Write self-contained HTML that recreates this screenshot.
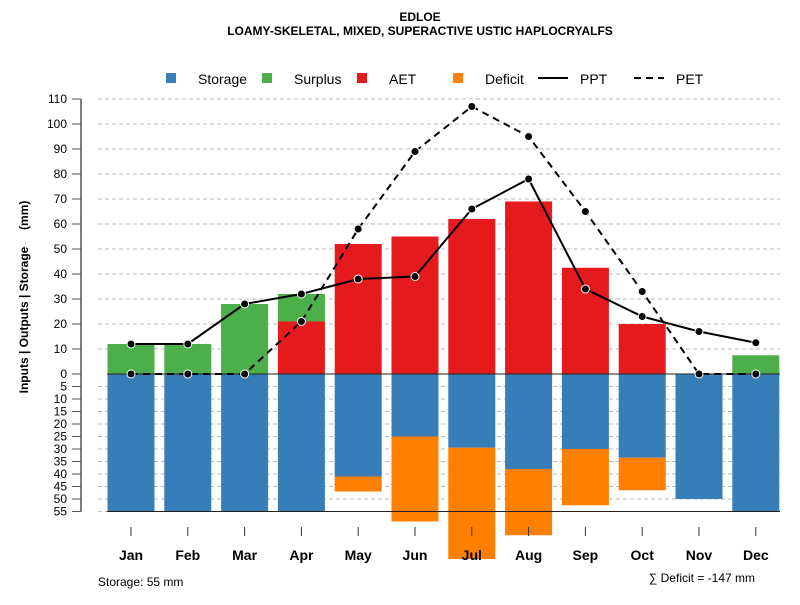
<!DOCTYPE html>
<html><head><meta charset="utf-8"><style>
body{margin:0;background:#fff;font-family:"Liberation Sans",sans-serif}
svg text{font-family:"Liberation Sans",sans-serif}
</style></head><body>
<svg id="c" width="800" height="600" viewBox="0 0 800 600">
<text x="420" y="21" font-size="12" font-weight="bold" text-anchor="middle">EDLOE</text>
<text x="420" y="35" font-size="12" font-weight="bold" text-anchor="middle">LOAMY-SKELETAL, MIXED, SUPERACTIVE USTIC HAPLOCRYALFS</text>
<g id="grid"></g>
<g id="bars"></g>
<g id="lines"></g>
<g id="axis"></g>
<g id="xaxis"></g>
<text transform="translate(28,297) rotate(-90)" font-size="12" font-weight="bold" text-anchor="middle">Inputs | Outputs | Storage&#160;&#160;&#160;&#160;&#160;(mm)</text>
<g font-size="14">
<g><rect x="166" y="73" width="10" height="10" fill="#377eb8"/><text x="198" y="84">Storage</text></g>
<g><rect x="262" y="73" width="10" height="10" fill="#4daf4a"/><text x="294" y="84">Surplus</text></g>
<g><rect x="357" y="73" width="10" height="10" fill="#e41a1c"/><text x="389" y="84">AET</text></g>
<g><rect x="453" y="73" width="10" height="10" fill="#ff7f00"/><text x="485" y="84">Deficit</text></g>
<g><line x1="538" y1="78" x2="568" y2="78" stroke="#000" stroke-width="2"/><text x="580" y="84">PPT</text></g>
<g><line x1="634" y1="78" x2="664" y2="78" stroke="#000" stroke-width="2" stroke-dasharray="7,5"/><text x="676" y="84">PET</text></g>
</g>
<text x="98" y="586" font-size="12">Storage: 55 mm</text>
<text x="755" y="582" font-size="12" text-anchor="end">∑ Deficit = -147 mm</text>
</svg>
<script>
const months=["Jan","Feb","Mar","Apr","May","Jun","Jul","Aug","Sep","Oct","Nov","Dec"];
const aet=[0,0,0,21,52,55,62,69,42.5,20,0,0];
const surplus=[12,12,28,11,0,0,0,0,0,0,0,7.5];
const storage=[55,55,55,55,41,25,29.5,38,30,33.5,50,55];
const deficit=[0,0,0,0,6,34,44.5,26.5,22.5,13,0,0];
const ppt=[12,12,28,32,38,39,66,78,34,23,17,12.5];
const pet=[0,0,0,21,58,89,107,95,65,33,0,0];
const posTicks=[0,10,20,30,40,50,60,70,80,90,100,110];
const negTicks=[5,10,15,20,25,30,35,40,45,50,55];
const NS="http://www.w3.org/2000/svg";
const y0=374,k=2.5;
const y=v=>y0-v*k;
const x=i=>131+i*56.8;
const bw=47;
function mk(p,t,a){const e=document.createElementNS(NS,t);for(const n in a)e.setAttribute(n,a[n]);document.getElementById(p).appendChild(e);return e;}
posTicks.forEach(t=>{
 if(t>0){const g=mk('grid','line',{x1:98,x2:780,y1:y(t),y2:y(t),stroke:'#bbb','stroke-dasharray':'4,3'});
 
 }
 mk('axis','line',{x1:72,x2:81,y1:y(t),y2:y(t),stroke:'#555'});
 const l=mk('axis','text',{x:67,y:y(t)+4,'font-size':12,'text-anchor':'end'});l.textContent=t;
 
 
});
negTicks.forEach(t=>{
 const g=mk('grid','line',{x1:98,x2:780,y1:y(-t),y2:y(-t),stroke:'#bbb','stroke-dasharray':'4,3'});
 
 
 mk('axis','line',{x1:72,x2:81,y1:y(-t),y2:y(-t),stroke:'#555'});
 const l=mk('axis','text',{x:67,y:y(-t)+4,'font-size':12,'text-anchor':'end'});l.textContent=t;
 
 
});
mk('axis','line',{x1:81,x2:81,y1:y(110),y2:y(-55),stroke:'#555','stroke-width':1.5});
function bar(i,top,bot,c,n){if(top===bot)return;const r=mk('bars','rect',{x:x(i)-bw/2,y:Math.min(y(top),y(bot)),width:bw,height:Math.abs(y(top)-y(bot)),fill:c});
 
 }
months.forEach((m,i)=>{
 bar(i,0,aet[i],'#e41a1c','aet');
 bar(i,aet[i],aet[i]+surplus[i],'#4daf4a','surplus');
 bar(i,0,-storage[i],'#377eb8','storage');
 bar(i,-storage[i],-storage[i]-deficit[i],'#ff7f00','deficit');
 mk('xaxis','line',{x1:x(i),x2:x(i),y1:527,y2:536,stroke:'#333'});
 const l=mk('xaxis','text',{x:x(i),y:560,'font-size':14,'font-weight':'bold','text-anchor':'middle'});l.textContent=m;
 
 
});
mk('bars','line',{x1:107,x2:780,y1:y0,y2:y0,stroke:'#222'});
mk('bars','line',{x1:107,x2:780,y1:y(-55),y2:y(-55),stroke:'#222'});
function series(arr,dash,n){
 const pl=mk('lines','polyline',{points:arr.map((v,i)=>x(i)+','+y(v)).join(' '),fill:'none',stroke:'#000','stroke-width':2,'stroke-dasharray':dash});
 
 
 arr.forEach((v,i)=>{const c=mk('lines','circle',{cx:x(i),cy:y(v),r:4,fill:'#000',stroke:'#fff','stroke-width':1});
 
 });
}
series(pet,'7,5','pet');
series(ppt,'none','ppt');
</script>
</body></html>
